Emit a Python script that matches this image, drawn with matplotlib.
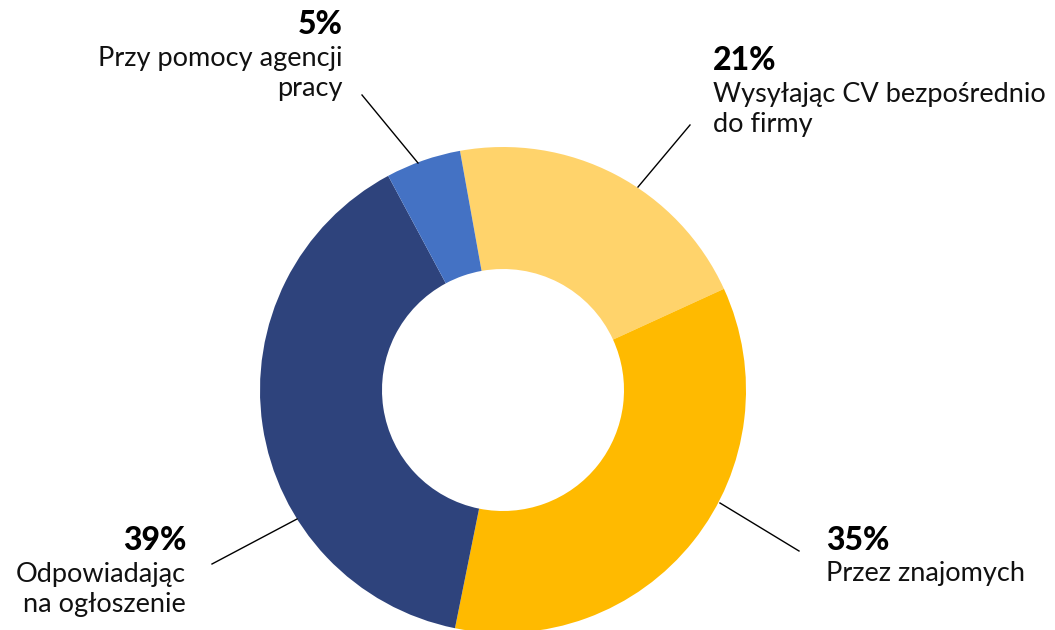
import matplotlib
matplotlib.use('Agg')
import matplotlib.pyplot as plt

# dane
labels = ['Wysyłając CV bezpośrednio\ndo firmy', 'Przez znajomych',
          'Odpowiadając\nna ogłoszenie', 'Przy pomocy agencji\npracy']
values = [21, 35, 39, 5]
colors = ['#FFD36B', '#FFBA00', '#2E437C', '#4472C4']

W, H = 1055, 630
cx, cy, R = 503, 390, 243

plt.rcParams['font.family'] = ['Lato', 'DejaVu Sans']

fig = plt.figure(figsize=(W / 100, H / 100), dpi=100)
ax = fig.add_axes([0, 0, 1, 1])
ax.axis('off')

ax.pie(values, colors=colors, startangle=100.2, counterclock=False,
       center=(cx, H - cy), radius=R,
       wedgeprops=dict(width=R - 121, linewidth=0))
ax.set_xlim(0, W)
ax.set_ylim(0, H)
ax.set_aspect('equal')

# polozenie etykiet: (x, y procentu, y opisu, wyrownanie, linia od, linia do)
lay = [
    (713, 60, 82, 'left', (638, 187), (690, 125)),
    (826, 541, 561, 'left', (720, 503), (799, 551)),
    (186, 541, 562, 'right', (297, 519), (212, 564)),
    (343, 25, 46, 'right', (418, 163), (362, 95)),
]

for lab, v, (x, yp, yd, ha, p0, p1) in zip(labels, values, lay):
    ax.text(x, H - yp, '%d%%' % v, ha=ha, va='center', fontsize=23,
            fontweight='black', color='black')
    ax.text(x, H - yd, lab, ha=ha, va='top', fontsize=19.5, color='#111111',
            linespacing=1.27, multialignment=ha)
    ax.plot([p0[0], p1[0]], [H - p0[1], H - p1[1]], color='black', lw=1)

fig.savefig('out.png', dpi=100)
